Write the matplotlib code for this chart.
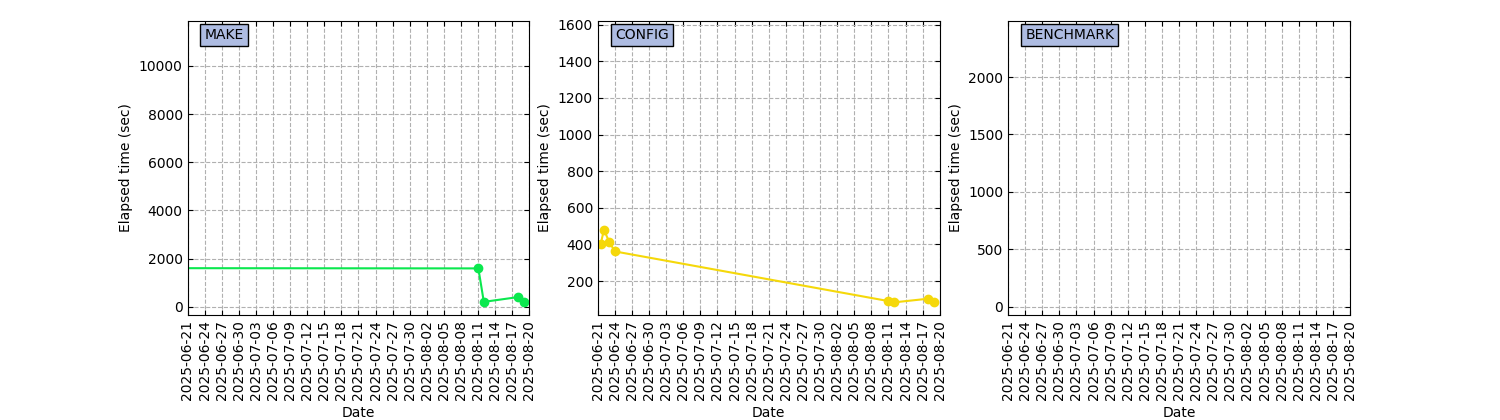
import pandas as pd
import matplotlib
matplotlib.use("Agg")
import matplotlib.pyplot as plt
import matplotlib.dates as mdates

# Elapsed times (sec)
make_dates = pd.to_datetime([
    "2025-06-17 00:00", "2025-08-11 01:00", "2025-08-12 00:00",
    "2025-08-18 01:00", "2025-08-19 02:00",
])
make_times = [1600, 1590, 200, 400, 200]

config_dates = pd.to_datetime([
    "2025-06-21 12:00", "2025-06-22 02:00", "2025-06-23 00:00",
    "2025-06-24 00:00", "2025-08-11 00:00", "2025-08-12 00:00",
    "2025-08-18 00:00", "2025-08-19 01:00",
])
config_times = [402, 480, 414, 362, 91, 84, 104, 84]

bench_dates = pd.to_datetime([])
bench_times = []

panels = ["MAKE", "CONFIG", "BENCHMARK"]
colors = ["#0ae84e", "#f5d80a", "#1f77b4"]
ylims = [(-345, 11880), (15, 1622), (-73, 2492)]

x_start = pd.Timestamp("2025-06-21")
x_end = pd.Timestamp("2025-08-20")
xticks = pd.date_range(x_start, x_end, freq="3D")

fig, axes = plt.subplots(1, 3, figsize=(15, 4.2), dpi=100)
fig.subplots_adjust(left=0.125, right=0.9, top=0.951, bottom=0.25, wspace=0.2)

series = [(make_dates, make_times), (config_dates, config_times),
          (bench_dates, bench_times)]

for ax, name, color, ylim, (d, t) in zip(axes, panels, colors, ylims, series):
    if len(t):
        ax.plot(d, t, marker="o", color=color, linewidth=1.5, markersize=6)
    ax.set_xlim(x_start, x_end)
    ax.set_ylim(*ylim)
    ax.set_xticks(xticks)
    ax.xaxis.set_major_formatter(mdates.DateFormatter("%Y-%m-%d"))
    ax.tick_params(axis="x", rotation=90)
    ax.tick_params(direction="in", top=True, right=True)
    ax.grid(True, linestyle="--", color="#b0b0b0")
    ax.set_xlabel("Date")
    ax.set_ylabel("Elapsed time (sec)")
    ax.text(0.05, 0.95, name, transform=ax.transAxes, ha="left", va="center",
            bbox=dict(boxstyle="square,pad=0.3", facecolor="#aebce2",
                      edgecolor="black"))

fig.savefig("out.png", dpi=100)
